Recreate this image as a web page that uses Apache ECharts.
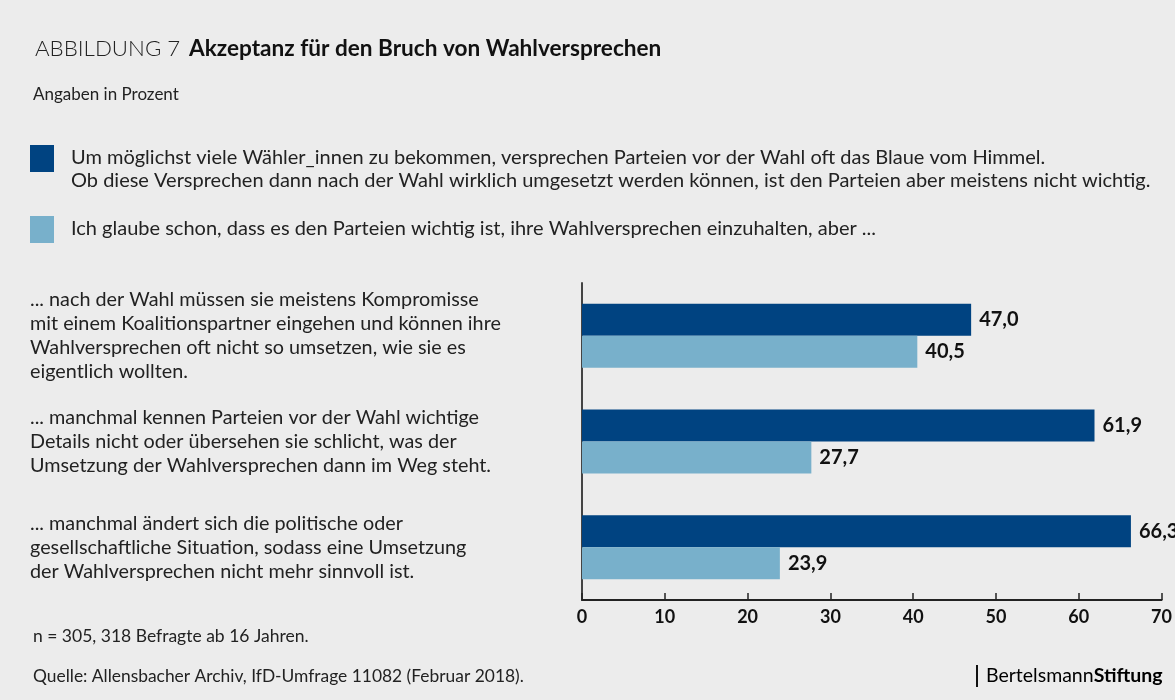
<!DOCTYPE html>
<html>
<head>
<meta charset="utf-8">
<script src="https://cdn.jsdelivr.net/npm/echarts@6/dist/echarts.min.js"></script>
<style>
  html, body { margin: 0; padding: 0; background: #ececec; }
  #chart { width: 1175px; height: 700px; }
</style>
</head>
<body>
<div id="chart"></div>
<script>
const categories = [
  "... nach der Wahl müssen sie meistens Kompromisse\nmit einem Koalitionspartner eingehen und können ihre\nWahlversprechen oft nicht so umsetzen, wie sie es\neigentlich wollten.",
  "... manchmal kennen Parteien vor der Wahl wichtige\nDetails nicht oder übersehen sie schlicht, was der\nUmsetzung der Wahlversprechen dann im Weg steht.",
  "... manchmal ändert sich die politische oder\ngesellschaftliche Situation, sodass eine Umsetzung\nder Wahlversprechen nicht mehr sinnvoll ist."
]
const blaueVomHimmel = [47.0, 61.9, 66.3]
const wichtigAber = [40.5, 27.7, 23.9]
const seriesNames = [
  "Um möglichst viele Wähler_innen zu bekommen, versprechen Parteien vor der Wahl oft das Blaue vom Himmel.\nOb diese Versprechen dann nach der Wahl wirklich umgesetzt werden können, ist den Parteien aber meistens nicht wichtig.",
  "Ich glaube schon, dass es den Parteien wichtig ist, ihre Wahlversprechen einzuhalten, aber ..."
]
const colors = ["#004381", "#78b0cb"]

const font = "Lato, 'Noto Sans', sans-serif"
const fmt = p => p.value.toFixed(1).replace(".", ",")

const chart = echarts.init(document.getElementById("chart"))

const barLabel = {
  show: true,
  position: "right",
  distance: 8,
  formatter: fmt,
  color: "#111",
  fontFamily: font,
  fontWeight: "bold",
  fontSize: 20
}

chart.setOption({
  backgroundColor: "#ececec",
  textStyle: { fontFamily: font },
  title: {
    left: 30,
    top: 30,
    text: "{a|ABBILDUNG 7}  {b|Akzeptanz für den Bruch von Wahlversprechen}",
    textStyle: {
      rich: {
        a: { fontFamily: font, fontWeight: 300, fontSize: 22.3, color: "#222", lineHeight: 28 },
        b: { fontFamily: font, fontWeight: "bold", fontSize: 22.6, color: "#111", lineHeight: 28 }
      }
    }
  },
  grid: { left: 582, right: 13, top: 283, bottom: 100, containLabel: false },
  xAxis: {
    type: "value",
    min: 0,
    max: 70,
    interval: 10,
    axisLine: { show: true, lineStyle: { color: "#222", width: 2 } },
    axisTick: { show: true, inside: true, length: 7, lineStyle: { color: "#222", width: 1.5 } },
    splitLine: { show: false },
    axisLabel: { color: "#111", fontFamily: font, fontWeight: "bold", fontSize: 18, margin: 8 }
  },
  yAxis: {
    type: "category",
    inverse: true,
    data: categories,
    axisLine: { show: true, lineStyle: { color: "#444", width: 2 } },
    axisTick: { show: false },
    axisLabel: {
      align: "left",
      margin: 552,
      color: "#222",
      fontFamily: font,
      fontSize: 19.8,
      lineHeight: 24
    }
  },
  series: [
    {
      name: seriesNames[0],
      type: "bar",
      data: blaueVomHimmel,
      barWidth: 32,
      barGap: "0%",
      itemStyle: { color: colors[0] },
      label: barLabel
    },
    {
      name: seriesNames[1],
      type: "bar",
      data: wichtigAber,
      barWidth: 32,
      barGap: "0%",
      itemStyle: { color: colors[1] },
      label: barLabel
    }
  ],
  graphic: [
    {
      type: "text", left: 33, top: 86,
      style: { text: "Angaben in Prozent", font: "17px " + font, fill: "#222" }
    },
    // legend squares and texts
    { type: "rect", shape: { x: 30, y: 145, width: 24, height: 27 }, style: { fill: colors[0] } },
    {
      type: "text", left: 71, top: 146,
      style: { text: seriesNames[0], font: "20px " + font, fill: "#222", lineHeight: 23 }
    },
    { type: "rect", shape: { x: 30, y: 216, width: 24, height: 27 }, style: { fill: colors[1] } },
    {
      type: "text", left: 71, top: 217,
      style: { text: seriesNames[1], font: "20px " + font, fill: "#222", lineHeight: 23 }
    },
    {
      type: "text", left: 33, top: 627,
      style: { text: "n = 305, 318 Befragte ab 16 Jahren.", font: "17.5px " + font, fill: "#222" }
    },
    {
      type: "text", left: 33, top: 668,
      style: { text: "Quelle: Allensbacher Archiv, IfD-Umfrage 11082 (Februar 2018).", font: "17.4px " + font, fill: "#222" }
    },
    { type: "rect", shape: { x: 976, y: 665, width: 2, height: 22 }, style: { fill: "#111" } },
    {
      type: "text", left: 986, top: 666,
      style: {
        text: "{a|Bertelsmann}{b|Stiftung}",
        rich: {
          a: { fontFamily: font, fontSize: 19.5, color: "#222" },
          b: { fontFamily: font, fontSize: 19.5, fontWeight: "bold", color: "#111" }
        }
      }
    }
  ]
})

window.addEventListener("resize", () => chart.resize())
</script>
</body>
</html>
